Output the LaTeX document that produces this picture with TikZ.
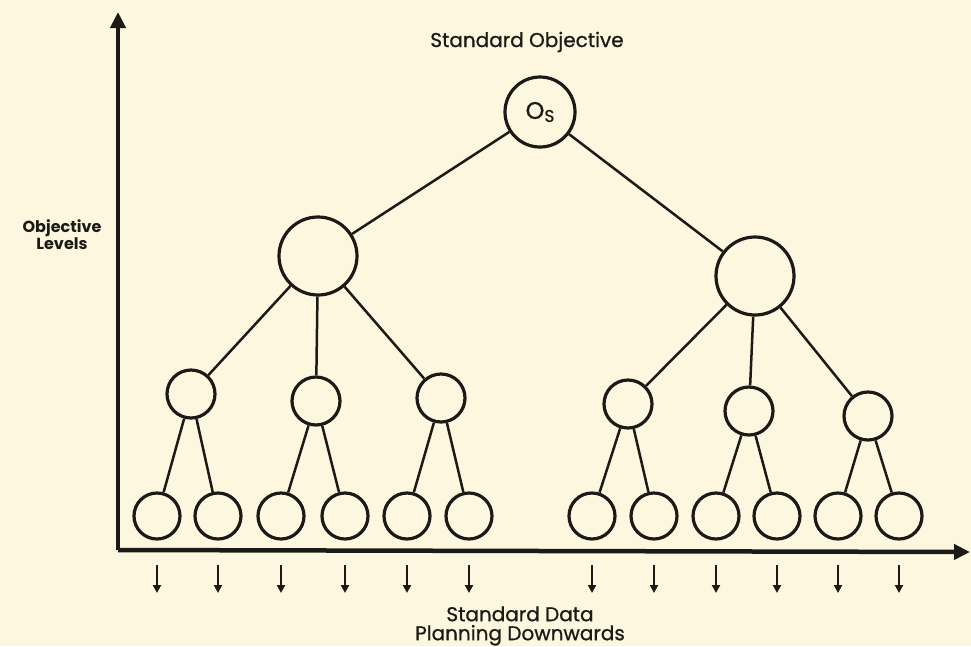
\documentclass[tikz,border=0pt]{standalone}
\usepackage{fontspec}
\setmainfont{Poppins}[UprightFeatures={FakeBold=0.8}]
\usetikzlibrary{arrows.meta}
\definecolor{paper}{RGB}{252,247,222}
\definecolor{ink}{RGB}{28,26,22}
\begin{document}
\begin{tikzpicture}[x=1pt,y=-1pt,color=ink,
  nd/.style={circle,draw,line width=3.2pt,inner sep=0pt},
  big/.style={nd,minimum size=78pt},
  top/.style={nd,minimum size=70pt},
  mid/.style={nd,minimum size=48pt},
  leaf/.style={nd,minimum size=46pt},
  edge/.style={line width=2.5pt},
  axis/.style={line width=4.5pt,-{Triangle[length=16pt,width=15pt]}},
  dn/.style={line width=2pt,-{Triangle[length=8pt,width=8pt]}},
  lbl/.style={font=\fontsize{20}{20}\selectfont}]
\fill[paper] (0,0) rectangle (971,646);
\useasboundingbox (0,0) rectangle (971,646);
% axes
\coordinate (orig) at (118,550);
\coordinate (ytop) at (118,12);
\coordinate (xend) at (970,552);
\draw[axis] (orig) -- (ytop);
\draw[axis] (orig) -- (xend);
% labels
\node[lbl] (tl) at (527,42) {Standard Objective};
\node[font=\bfseries\fontsize{16}{17}\selectfont,align=center] (yl) at (62,235) {Objective\\Levels};
\node[lbl,align=center,font=\fontsize{20}{19}\selectfont] (bl) at (520,626) {Standard Data\\Planning Downwards};
% nodes
\node[top] (os) at (540,112) {\fontsize{24}{24}\selectfont O\raisebox{-3pt}{\fontsize{17}{17}\selectfont S}};
\node[big] (a) at (318,256) {};
\node[big] (b) at (755,276) {};
\node[mid] (a1) at (191,394) {};
\node[mid] (a2) at (316,401) {};
\node[mid] (a3) at (441,398) {};
\node[mid] (b1) at (628,404) {};
\node[mid] (b2) at (749,411) {};
\node[mid] (b3) at (868,416) {};
\foreach \n/\x in {1/157,2/218,3/281,4/345,5/407,6/469,7/592,8/654,9/716,10/777,11/838,12/899}{
  \node[leaf] (l\n) at (\x,516) {};
  \coordinate (s\n) at (\x,565);
  \coordinate (e\n) at (\x,593);
  \draw[dn] (s\n) -- (e\n);
}
% edges
\draw[edge] (os) -- (a);
\draw[edge] (os) -- (b);
\foreach \c in {a1,a2,a3}{\draw[edge] (a) -- (\c);}
\foreach \c in {b1,b2,b3}{\draw[edge] (b) -- (\c);}
\draw[edge] (a1) -- (l1); \draw[edge] (a1) -- (l2);
\draw[edge] (a2) -- (l3); \draw[edge] (a2) -- (l4);
\draw[edge] (a3) -- (l5); \draw[edge] (a3) -- (l6);
\draw[edge] (b1) -- (l7); \draw[edge] (b1) -- (l8);
\draw[edge] (b2) -- (l9); \draw[edge] (b2) -- (l10);
\draw[edge] (b3) -- (l11); \draw[edge] (b3) -- (l12);
\end{tikzpicture}
\end{document}
